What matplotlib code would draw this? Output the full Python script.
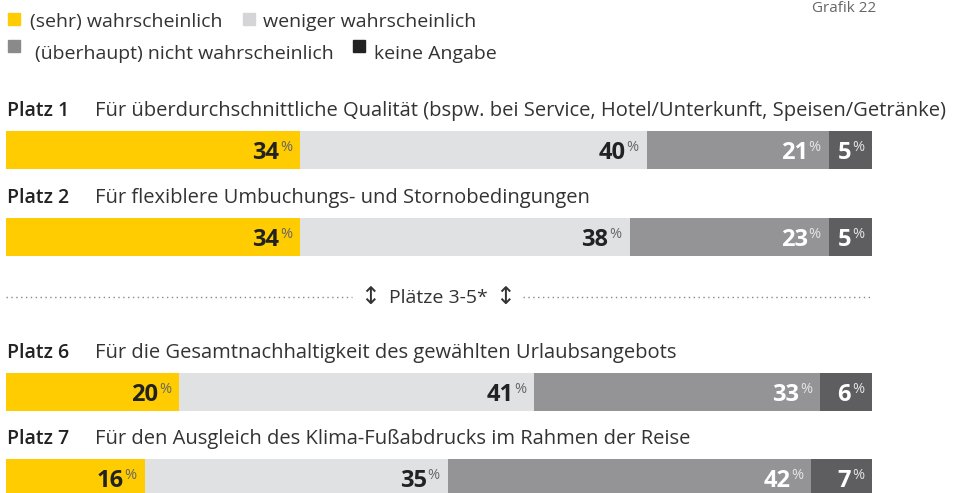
import matplotlib
matplotlib.use("Agg")
import matplotlib.pyplot as plt
import numpy as np

# Daten
kategorien = ["(sehr) wahrscheinlich", "weniger wahrscheinlich",
              "(überhaupt) nicht wahrscheinlich", "keine Angabe"]
plaetze = ["Platz 1", "Platz 2", "Platz 6", "Platz 7"]
fragen = [
    "Für überdurchschnittliche Qualität (bspw. bei Service, Hotel/Unterkunft, Speisen/Getränke)",
    "Für flexiblere Umbuchungs- und Stornobedingungen",
    "Für die Gesamtnachhaltigkeit des gewählten Urlaubsangebots",
    "Für den Ausgleich des Klima-Fußabdrucks im Rahmen der Reise",
]
sehr_wahrscheinlich = [34, 34, 20, 16]
weniger_wahrscheinlich = [40, 38, 41, 35]
nicht_wahrscheinlich = [21, 23, 33, 42]
keine_angabe = [5, 5, 6, 7]

W, H = 965, 493
plt.rcParams['font.family'] = ['Open Sans', 'DejaVu Sans']

bar_farben = ["#FECC00", "#E0E1E3", "#949497", "#5E5E60"]
legend_farben = ["#FECC00", "#D5D5D7", "#8A8A8C", "#222222"]
zahl_farben = ["#222222", "#222222", "#FFFFFF", "#FFFFFF"]
proz_farben = ["#666666", "#666666", "#E6E6E6", "#E6E6E6"]

fig = plt.figure(figsize=(W / 100, H / 100), dpi=100)
ax = fig.add_axes([6 / W, 0, 866 / W, 1])
ax.set_xlim(0, 100)
ax.set_ylim(H, 0)
ax.axis('off')


def ptext(px, py, s, **kw):
    fig.text(px / W, 1 - py / H, s, **kw)


# Legende: (Quadrat x, Quadrat-Mitte y, Text x, Grundlinie y)
legende = [(8, 19, 30, 27), (243, 19, 263, 27), (8, 46, 35, 59), (353, 46, 374, 59)]
for (sx, sy, tx, ty), name, farbe in zip(legende, kategorien, legend_farben):
    fig.patches.append(plt.Rectangle((sx / W, 1 - (sy + 6) / H), 12 / W, 12 / H,
                                     transform=fig.transFigure, color=farbe))
    ptext(tx, ty, name, fontsize=14, color="#333333", va='baseline')

ptext(812, 12, "Grafik 22", fontsize=11, color="#666666", va='baseline')

# Balken
serien = [sehr_wahrscheinlich, weniger_wahrscheinlich, nicht_wahrscheinlich, keine_angabe]
mitten = [150, 236.5, 392, 478]
label_y = [116, 203, 358, 444]

for i in range(len(plaetze)):
    ptext(7, label_y[i], plaetze[i], fontsize=14, fontweight='semibold', color="#222222", va='baseline')
    ptext(95, label_y[i], fragen[i], fontsize=14.5, color="#333333", va='baseline')

links = np.zeros(len(plaetze))
for k, werte in enumerate(serien):
    werte = np.array(werte)
    ax.barh(mitten, werte, left=links, height=38, color=bar_farben[k], linewidth=0)
    for yy, l, v in zip(mitten, links, werte):
        ende = l + v
        ax.annotate("%", (ende, yy), xytext=(-8, -1), textcoords='offset pixels',
                    ha='right', va='baseline', fontsize=10.5, color=proz_farben[k])
        ax.annotate(str(v), (ende, yy), xytext=(-21, -9), textcoords='offset pixels',
                    ha='right', va='baseline', fontsize=17, fontweight='bold',
                    color=zahl_farben[k])
    links = links + werte

# Trenner Plätze 3-5
sep_y = 297
fig.add_artist(plt.Line2D([6 / W, 352 / W], [1 - sep_y / H] * 2, color="#888888",
                          linestyle=(0, (1, 2.5)), linewidth=1))
fig.add_artist(plt.Line2D([523 / W, 872 / W], [1 - sep_y / H] * 2, color="#888888",
                          linestyle=(0, (1, 2.5)), linewidth=1))
ptext(370, sep_y, "↕", fontsize=17, color="#333333", ha='center', va='center',
      family=['DejaVu Sans'])
ptext(505, sep_y, "↕", fontsize=17, color="#333333", ha='center', va='center',
      family=['DejaVu Sans'])
ptext(389, sep_y + 6, "Plätze 3-5*", fontsize=14, color="#333333", va='baseline')

fig.savefig("out.png", dpi=100)
